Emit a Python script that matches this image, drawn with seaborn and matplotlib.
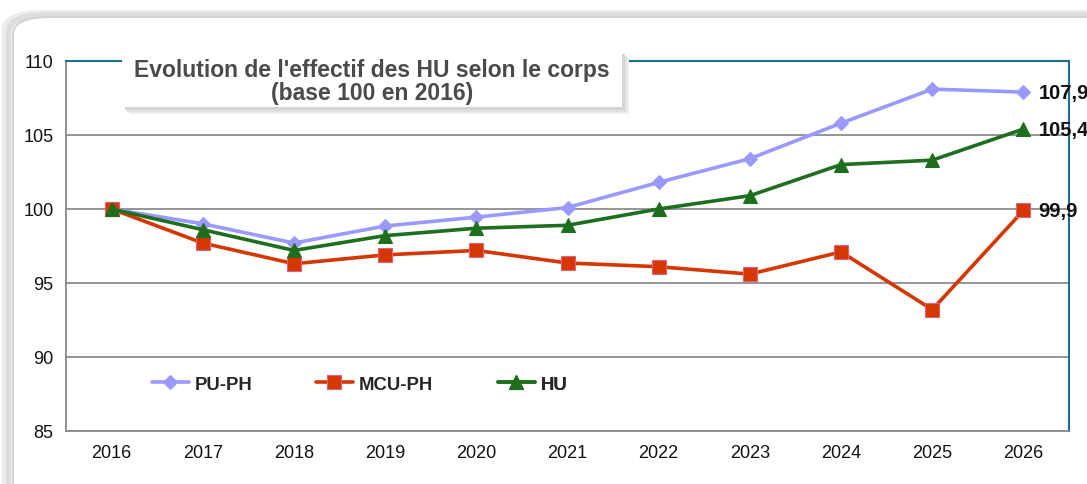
import numpy as np
import pandas as pd
import matplotlib
matplotlib.use('Agg')
import matplotlib.pyplot as plt
import seaborn as sns
from matplotlib.patches import FancyBboxPatch

years = [2016, 2017, 2018, 2019, 2020, 2021, 2022, 2023, 2024, 2025, 2026]
pu_ph = [100.0, 99.0, 97.7, 98.85, 99.45, 100.1, 101.8, 103.4, 105.8, 108.1, 107.9]
mcu_ph = [100.0, 97.7, 96.3, 96.9, 97.2, 96.35, 96.1, 95.6, 97.1, 93.2, 99.9]
hu = [100.0, 98.6, 97.2, 98.2, 98.7, 98.9, 100.0, 100.9, 103.0, 103.3, 105.4]
end_labels = ['107,9', '99,9', '105,4']

sns.set_theme(style='white')
plt.rcParams['font.family'] = ['Liberation Sans', 'DejaVu Sans']

fig = plt.figure(figsize=(10.87, 4.85), dpi=100)
# rounded outer frame with soft shadow
for off, col in [(0.008, '#ececec'), (0.004, '#dddddd')]:
    fig.patches.append(FancyBboxPatch((0.012 - off, -0.05), 1.05, 1.013 + off,
                                      boxstyle='round,pad=0,rounding_size=0.035',
                                      transform=fig.transFigure, facecolor='none',
                                      edgecolor=col, linewidth=4, zorder=-10))
fig.patches.append(FancyBboxPatch((0.012, -0.05), 1.05, 1.013,
                                  boxstyle='round,pad=0,rounding_size=0.035',
                                  transform=fig.transFigure, facecolor='white',
                                  edgecolor='#d2d2d2', linewidth=1.5, zorder=-9))

ax = fig.add_axes([66 / 1087, 1 - 432 / 485, (1069 - 66) / 1087, (432 - 62) / 485])
ax.set_facecolor('none')

series = [('PU-PH', pu_ph, '#9999ff', 'D', 7.5, '#9999ff'),
          ('MCU-PH', mcu_ph, '#d63600', 's', 9.5, '#e06080'),
          ('HU', hu, '#1d6f1d', '^', 9.5, '#1d6f1d')]
for name, vals, col, mk, ms, ec in series:
    df = pd.DataFrame({'year': years, 'val': vals})
    sns.lineplot(data=df, x='year', y='val', ax=ax, color=col, marker=mk,
                 markersize=ms, markeredgecolor=ec, markeredgewidth=0.8,
                 linewidth=2.6, label=name, zorder=3)

ax.set_xlim(2015.5, 2026.5)
ax.set_ylim(85, 110)
ax.set_yticks(np.arange(85, 111, 5))
ax.set_xticks(years)
ax.set_xticklabels([str(y) for y in years])
ax.set_xticks(np.arange(2015.5, 2026.6, 1), minor=True)
ax.tick_params(axis='x', which='major', length=0, pad=9, labelsize=13, labelcolor='#111111')
ax.tick_params(axis='x', which='minor', length=5, width=1.2, color='#888888', direction='out')
ax.tick_params(axis='y', length=5, width=1.2, color='#888888', direction='out', pad=4,
               labelsize=13, labelcolor='#111111')
ax.yaxis.grid(True, color='#8c8c8c', linewidth=1.3)
ax.set_axisbelow(True)
ax.set_xlabel('')
ax.set_ylabel('')
for s in ['left', 'bottom']:
    ax.spines[s].set_color('#888888')
    ax.spines[s].set_linewidth(1.3)
for s in ['top', 'right']:
    ax.spines[s].set_color('#1f6c94')
    ax.spines[s].set_linewidth(1.5)

# end-of-line labels
for (name, vals, *_), lab in zip(series, end_labels):
    ax.annotate(lab, (years[-1], vals[-1]), xytext=(11, 0), textcoords='offset points',
                ha='left', va='center', fontsize=14.5, fontweight='bold', color='#111111',
                annotation_clip=False, zorder=5)

# legend: one entry per box, placed like the original
handles, labels = ax.get_legend_handles_labels()
ax.get_legend().remove()
leg_x = [86 / 1003, 250 / 1003, 432 / 1003]
for h, l, x0 in zip(handles, labels, leg_x):
    lg = ax.legend([h], [l], loc='center left', bbox_to_anchor=(x0, 0.127), frameon=False,
                   handlelength=2.0, handletextpad=0.3, borderaxespad=0, borderpad=0,
                   prop={'weight': 'bold', 'size': 13.3})
    ax.add_artist(lg)

# title box with soft shadow
for dx, dy, col in [(7, 7, '#eeeeee'), (5, 5, '#e2e2e2'), (3, 3, '#d4d4d4')]:
    ax.add_patch(FancyBboxPatch(((122 - 66 + dx) / 1003, 1 - (108 - 62 + dy) / 370),
                                500 / 1003, 56 / 370, boxstyle='square,pad=0',
                                transform=ax.transAxes, facecolor=col, edgecolor='none',
                                zorder=7, clip_on=False))
ax.add_patch(FancyBboxPatch(((122 - 66) / 1003, 1 - (108 - 62) / 370), 500 / 1003, 56 / 370,
                            boxstyle='square,pad=0', transform=ax.transAxes,
                            facecolor='white', edgecolor='none', zorder=8, clip_on=False))
ax.text((372 - 66) / 1003, 1 - (82 - 62) / 370,
        "Evolution de l'effectif des HU selon le corps\n(base 100 en 2016)",
        transform=ax.transAxes, ha='center', va='center', fontsize=16.5,
        fontweight='bold', color='#4a4a4a', linespacing=1.05, zorder=9)

fig.savefig('out.png', dpi=100)
